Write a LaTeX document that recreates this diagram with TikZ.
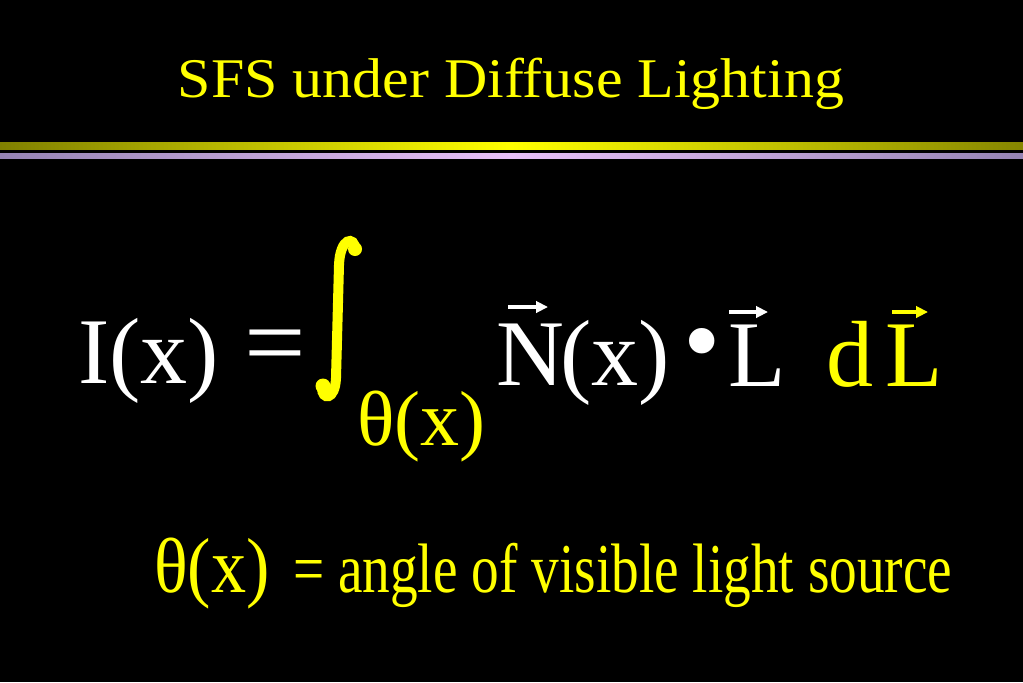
\documentclass[tikz,border=0pt]{standalone}
\usepackage{fontspec}
\setmainfont{Liberation Serif}
\usetikzlibrary{arrows.meta}
\definecolor{slideyellow}{RGB}{255,255,0}
\definecolor{barolive}{RGB}{128,128,0}
\definecolor{barpurpleA}{RGB}{150,132,180}
\definecolor{barpurpleB}{RGB}{232,192,248}
\newcommand{\fsz}[1]{\fontsize{#1}{#1}\selectfont}
\begin{document}
\begin{tikzpicture}[x=0.75pt,y=-0.75pt,
  txt/.style={inner sep=0pt,outer sep=0pt,anchor=base west},
  big/.style={txt,font=\fsz{70.5pt},text=white},
  sub/.style={txt,font=\fsz{58.5pt},text=slideyellow},
  vec/.style={line width=2.4pt,-{Triangle[length=9pt,width=8.5pt]}},
]
\fill[black] (0,0) rectangle (1023,682);
\useasboundingbox (0,0) rectangle (1023,682);
% title
\node[txt,anchor=base,font=\fsz{42pt},text=slideyellow,xscale=1.07] (title) at (511,97) {SFS under Diffuse Lighting};
% divider bars
\shade[left color=barolive,right color=barolive!105!black,middle color=slideyellow] (0,142) rectangle (1023,149);
\shade[left color=barpurpleA,right color=barpurpleA,middle color=barpurpleB] (0,153) rectangle (1023,158);
% main equation
\node[big] (Ix) at (78,383) {I(x)};
\node[txt,anchor=center,font=\fsz{78pt},text=white,xscale=1.05] (eq) at (275,354) {=};
% integral sign
\draw[slideyellow,line width=7.5pt] (339,265) .. controls (340,237) and (355,236) .. (355,249)
   (339,265) -- (336,378) .. controls (335,401) and (322,400) .. (322,388);
\fill[slideyellow] (355,249) circle (7) (323,386) circle (7.5);
\node[sub] (theta) at (357,445) {θ(x)};
\node[big] (N) at (496,385) {N};
\draw[vec,white] (508,307) -- (548,307);
\node[big] (Nx) at (560,385) {(x)};
\node[txt,anchor=center,font=\fsz{80pt},text=white] (dot) at (702,352) {•};
\node[big] (L1) at (728,386) {L};
\draw[vec,white] (729,312) -- (768,312);
\node[big,text=slideyellow] (d) at (826,386) {d};
\node[big,text=slideyellow] (L2) at (885,386) {L};
\draw[vec,slideyellow] (892,312) -- (928,312);
% bottom definition
\node[txt,font=\fsz{58.5pt},text=slideyellow,xscale=0.9] (thetadef) at (154,592) {θ(x)};
\node[txt,font=\fsz{52.5pt},text=slideyellow,xscale=0.79] (def) at (293,592) {= angle of visible light source};
\end{tikzpicture}
\end{document}
